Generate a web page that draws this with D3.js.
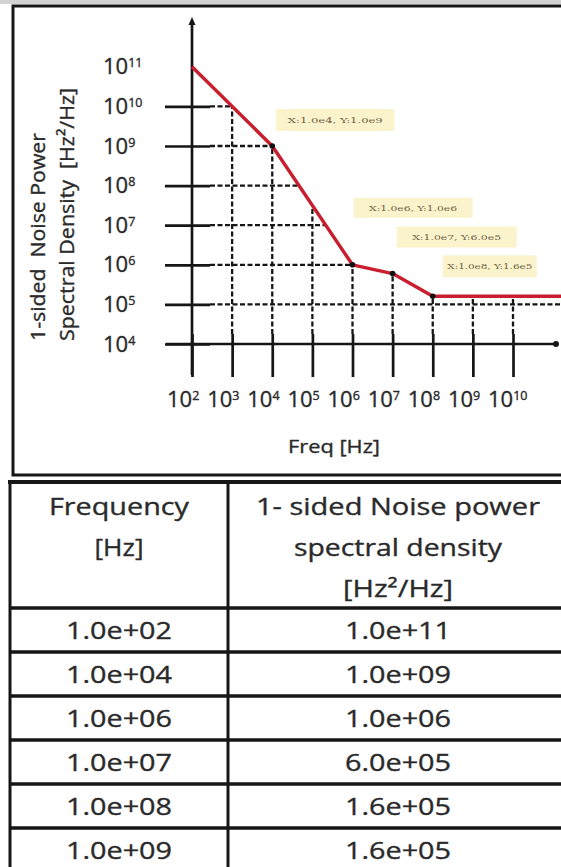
<!DOCTYPE html>
<html><head><meta charset="utf-8">
<script src="https://cdn.jsdelivr.net/npm/d3@7"></script>
<style>html,body{margin:0;padding:0;background:#fff;overflow:hidden;} svg{display:block;} text.t{stroke:#2a2a2a;stroke-width:0.35px;}</style>
</head><body>
<svg id="c" width="561" height="867"></svg>
<script>
// ---------- data ----------
const freqHz = [1e2, 1e4, 1e6, 1e7, 1e8, 1e9];
const psdValues = [1e11, 1e9, 1e6, 6e5, 1.6e5, 1.6e5];
const xTickExps = [2, 3, 4, 5, 6, 7, 8, 9, 10];
const yTickExps = [4, 5, 6, 7, 8, 9, 10, 11];
const annotatedIdx = [1, 2, 3, 4];
const xAxisTitle = "Freq [Hz]";
const yAxisTitle = ["1-sided  Noise Power", "Spectral Density  [Hz²/Hz]"];
const tableHeadCol1 = ["Frequency", "[Hz]"];
const tableHeadCol2 = ["1- sided Noise power", "spectral density", "[Hz²/Hz]"];

// ---------- layout ----------
const W = 561, H = 867;
const ink = "#161616", txt = "#2a2a2a", red = "#c81e2d";
const FONT = "'Open Sans', sans-serif";
const svg = d3.select("#c");

// outer frame
svg.append("rect").attr("x", 0).attr("y", 0).attr("width", W).attr("height", 4).attr("fill", "#d2d2d2");
svg.append("rect").attr("x", 13).attr("y", 6).attr("width", 640).attr("height", 469)
  .attr("fill", "none").attr("stroke", ink).attr("stroke-width", 3);

const x = d3.scaleLog().domain([1e2, 1e10]).range([192, 513]);
const y = d3.scaleLog().domain([1e4, 1e11]).range([344, 66.8]);
const X0 = x(1e2), Y0 = y(1e4);

// log-log interpolation of the curve (for where grid lines stop)
const lf = freqHz.map(Math.log10), lp = psdValues.map(Math.log10);
function psdAt(f) {
  const l = Math.log10(f);
  if (l <= lf[0]) return psdValues[0];
  for (let i = 1; i < lf.length; i++) {
    if (l <= lf[i]) { const t = (l - lf[i-1]) / (lf[i] - lf[i-1]); return Math.pow(10, lp[i-1] + t * (lp[i] - lp[i-1])); }
  }
  return psdValues[psdValues.length - 1];
}
function freqAt(p) {
  const l = Math.log10(p);
  for (let i = 1; i < lp.length; i++) {
    if (lp[i] !== lp[i-1] && l <= lp[i-1] && l >= lp[i]) {
      const t = (l - lp[i-1]) / (lp[i] - lp[i-1]); return Math.pow(10, lf[i-1] + t * (lf[i] - lf[i-1]));
    }
  }
  return null;
}

// dashed grid up to the curve
const grid = svg.append("g").attr("stroke", ink).attr("stroke-width", 2.3).attr("stroke-dasharray", "5,2.5");
xTickExps.slice(1).forEach(k => {
  const f = Math.pow(10, k);
  grid.append("line").attr("x1", x(f)).attr("x2", x(f)).attr("y1", Y0 - 10).attr("y2", y(psdAt(f)));
});
yTickExps.filter(k => k > 4 && k < 11).forEach(k => {
  const p = Math.pow(10, k), f = freqAt(p);
  grid.append("line").attr("y1", y(p)).attr("y2", y(p)).attr("x1", X0 + 18).attr("x2", f ? x(f) : W);
});

// solid tick crosses via d3 axes
const yAx = d3.axisLeft(y).tickValues(yTickExps.filter(k => k < 11).map(k => Math.pow(10, k))).tickSize(45).tickFormat(() => "");
svg.append("g").attr("transform", `translate(${X0 + 18},0)`).call(yAx)
  .call(g => { g.select(".domain").remove(); g.selectAll("line").attr("stroke", ink).attr("stroke-width", 2.7); });
const xAx = d3.axisBottom(x).tickValues(xTickExps.map(k => Math.pow(10, k))).tickSize(43).tickFormat(() => "");
svg.append("g").attr("transform", `translate(0,${Y0 - 10})`).call(xAx)
  .call(g => { g.select(".domain").remove(); g.selectAll("line").attr("stroke", ink).attr("stroke-width", 2.7); });

// main axis lines with arrow dots
svg.append("line").attr("x1", X0).attr("x2", X0).attr("y1", 21).attr("y2", 375).attr("stroke", ink).attr("stroke-width", 2.7);
svg.append("line").attr("x1", 166).attr("x2", 557).attr("y1", Y0).attr("y2", Y0).attr("stroke", ink).attr("stroke-width", 2.7);
svg.append("path").attr("d", `M${X0},17 L${X0-3.5},25 L${X0+3.5},25 Z`).attr("fill", ink);
svg.append("circle").attr("cx", 556).attr("cy", Y0).attr("r", 3).attr("fill", ink);

// red curve
const lineData = freqHz.map((f, i) => [f, psdValues[i]]).concat([[x.invert(W + 5), psdValues[psdValues.length - 1]]]);
svg.append("path").datum(lineData)
  .attr("d", d3.line().x(d => x(d[0])).y(d => y(d[1])))
  .attr("fill", "none").attr("stroke", red).attr("stroke-width", 3.4).attr("stroke-linejoin", "round");

// data tips
const tipLayout = [
  { dx: 4, dy: -37, w: 118, h: 22, tw: 95 },
  { dx: 1, dy: -67, w: 119, h: 20, tw: 88 },
  { dx: 4, dy: -47, w: 120, h: 21, tw: 89 },
  { dx: 10, dy: -41, w: 94, h: 22, tw: 85 }
];
const tipFmt = v => { const s = v.toExponential(1).split("e"); return s[0] + "e" + (+s[1]); };
annotatedIdx.forEach((idx, j) => {
  const px = x(freqHz[idx]), py = y(psdValues[idx]), L = tipLayout[j];
  svg.append("rect").attr("x", px + L.dx).attr("y", py + L.dy).attr("width", L.w).attr("height", L.h)
    .attr("fill", "#fbf2c9").attr("opacity", 0.95);
  svg.append("text").attr("x", px + L.dx + (L.w - L.tw) / 2).attr("y", py + L.dy + L.h / 2 + 3)
    .attr("textLength", L.tw).attr("lengthAdjust", "spacingAndGlyphs")
    .attr("font-family", "'DejaVu Serif', serif").attr("font-size", 8).attr("fill", "#6d6244")
    .text(`X:${tipFmt(freqHz[idx])}, Y:${tipFmt(psdValues[idx])}`);
  svg.append("circle").attr("cx", px).attr("cy", py).attr("r", 2.8).attr("fill", "#111");
});

// y tick labels
yTickExps.forEach(k => {
  const t = svg.append("text").attr("class", "t").attr("x", 103).attr("y", y(Math.pow(10, k)) + 7.5)
    .attr("font-family", FONT).attr("font-size", 22).attr("fill", txt);
  t.append("tspan").text("10");
  t.append("tspan").attr("dy", -7).attr("font-size", 12.5).text(k);
});
// x tick labels
xTickExps.forEach(k => {
  const t = svg.append("text").attr("class", "t").attr("x", x(Math.pow(10, k)) - 25).attr("y", 407)
    .attr("font-family", FONT).attr("font-size", 22).attr("fill", txt);
  t.append("tspan").text("10");
  t.append("tspan").attr("dy", -7).attr("font-size", 12.5).text(k);
});

// axis titles
svg.append("text").attr("class", "t").attr("x", 334).attr("y", 453).attr("text-anchor", "middle")
  .attr("textLength", 92).attr("lengthAdjust", "spacingAndGlyphs")
  .attr("font-family", FONT).attr("font-size", 19).attr("fill", txt).text(xAxisTitle);
[[45, 208], [74, 253]].forEach((p, i) => {
  svg.append("text").attr("class", "t").attr("transform", `translate(${p[0]},341) rotate(-90)`)
    .attr("textLength", p[1]).attr("lengthAdjust", "spacingAndGlyphs")
    .attr("font-family", FONT).attr("font-size", 20).attr("fill", txt)
    .style("white-space", "pre").text(yAxisTitle[i]);
});

// ---------- table ----------
const tTop = 482, tHead = 608, rowH = 44, tL = 10, tSplit = 228, tR = 568;
const c1 = (tL + tSplit) / 2, c2 = (tSplit + tR) / 2;
const tbl = svg.append("g");
const nRows = freqHz.length;
const rowYs = d3.range(nRows + 1).map(i => tHead + i * rowH);
tbl.append("line").attr("x1", tL - 2).attr("x2", W).attr("y1", tTop).attr("y2", tTop).attr("stroke", ink).attr("stroke-width", 4);
rowYs.forEach(yy => tbl.append("line").attr("x1", tL).attr("x2", W).attr("y1", yy).attr("y2", yy).attr("stroke", ink).attr("stroke-width", 3.5));
[tL, tSplit, tR].forEach(xx => tbl.append("line").attr("x1", xx).attr("x2", xx).attr("y1", tTop).attr("y2", H + 10).attr("stroke", ink).attr("stroke-width", 3));

const headW1 = [140, 49], headW2 = [284, 208, 110];
tableHeadCol1.forEach((s, i) => tbl.append("text").attr("class", "t").attr("x", c1).attr("y", 515 + i * 41).attr("text-anchor", "middle")
  .attr("textLength", headW1[i]).attr("lengthAdjust", "spacingAndGlyphs")
  .attr("font-family", FONT).attr("font-size", 24).attr("fill", txt).text(s));
tableHeadCol2.forEach((s, i) => tbl.append("text").attr("class", "t").attr("x", c2).attr("y", 515 + i * 41).attr("text-anchor", "middle")
  .attr("textLength", headW2[i]).attr("lengthAdjust", "spacingAndGlyphs")
  .attr("font-family", FONT).attr("font-size", 24).attr("fill", txt).text(s));

const tFmt = v => { const s = v.toExponential(1).split("e"); const e = +s[1]; return s[0] + "e" + (e < 0 ? "-" : "+") + String(Math.abs(e)).padStart(2, "0"); };
freqHz.forEach((f, i) => {
  const cy = rowYs[i] + rowH / 2 + 9;
  tbl.append("text").attr("class", "t").attr("x", c1).attr("y", cy).attr("text-anchor", "middle")
    .attr("textLength", 106).attr("lengthAdjust", "spacingAndGlyphs")
    .attr("font-family", FONT).attr("font-size", 24).attr("fill", txt).text(tFmt(f));
  tbl.append("text").attr("class", "t").attr("x", c2).attr("y", cy).attr("text-anchor", "middle")
    .attr("textLength", 106).attr("lengthAdjust", "spacingAndGlyphs")
    .attr("font-family", FONT).attr("font-size", 24).attr("fill", txt).text(tFmt(psdValues[i]));
});
</script>
</body></html>
